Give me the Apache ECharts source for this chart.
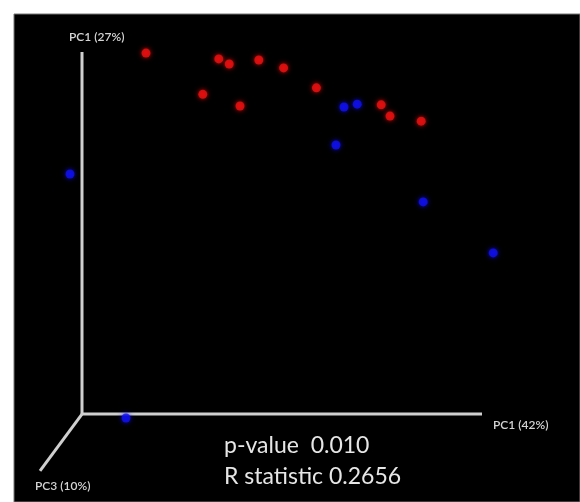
<!DOCTYPE html>
<html>
<head>
<meta charset="utf-8">
<script src="https://cdn.jsdelivr.net/npm/echarts@6/dist/echarts.min.js"></script>
<style>
    html, body{
        margin: 0;
        padding: 0;
        background: #fff;
    }
    #pcoa{
        width: 580px;
        height: 502px;
    }
</style>
</head>
<body>
<div id="pcoa"></div>
<script>
    // PCoA scores (PC1 42% across, PC1 27% up)
    var redPoints = [
        [16, 99.7], [34.2, 98.1], [36.8, 96.7], [44.2, 97.8], [50.4, 95.6],
        [30.2, 88.3], [39.5, 85.1], [58.6, 90.1], [74.8, 85.4], [77, 82.3], [84.8, 80.9]
    ];
    var bluePoints = [
        [-3, 66.3], [65.5, 84.8], [68.8, 85.6], [63.5, 74.3],
        [85.3, 58.6], [102.8, 44.5], [11, -1.1]
    ];
    // the three drawn axes, from origin
    var axisPC1 = [[0, 0], [100, 0]];
    var axisPC2 = [[0, 0], [0, 100]];
    var axisPC3 = [[0, 0], [-10.5, -15.7]];
    var axisNames = ['PC1 (42%)', 'PC1 (27%)', 'PC3 (10%)'];
    var statLines = ['p-value  0.010', 'R statistic 0.2656'];

    var myChart = echarts.init(document.getElementById('pcoa'));

    function axisLine(data){
        return {
            type: 'line',
            data: data,
            symbol: 'none',
            silent: true,
            z: 1,
            lineStyle: {color: '#cfcfcf', width: 3}
        };
    }
    function dots(data, color){
        return {
            type: 'scatter',
            data: data,
            symbolSize: 9,
            z: 3,
            itemStyle: {color: color, shadowBlur: 5, shadowColor: color}
        };
    }

    var option = {
        backgroundColor: '#fff',
        animation: false,
        grid: {
            left: 14, top: 14, right: 0, bottom: 0,
            show: true,
            backgroundColor: '#000',
            borderColor: '#777',
            borderWidth: 1
        },
        xAxis: {
            type: 'value', min: -17, max: 124.5,
            show: false, splitLine: {show: false}
        },
        yAxis: {
            type: 'value', min: -24.3, max: 110.5,
            show: false, splitLine: {show: false}
        },
        series: [
            axisLine(axisPC1),
            axisLine(axisPC2),
            axisLine(axisPC3),
            dots(redPoints, '#f01010'),
            dots(bluePoints, '#1010f5')
        ],
        graphic: [
            {type: 'text', left: 493, top: 419, style: {text: axisNames[0], fill: '#d4d4d4', font: '600 12px Lato'}},
            {type: 'text', left: 69, top: 31, style: {text: axisNames[1], fill: '#d4d4d4', font: '600 12px Lato'}},
            {type: 'text', left: 35, top: 480, style: {text: axisNames[2], fill: '#d4d4d4', font: '600 12px Lato'}},
            {type: 'text', left: 224, top: 434, style: {text: statLines[0], fill: '#e6e6e6', font: '23px Lato'}},
            {type: 'text', left: 224, top: 465, style: {text: statLines[1], fill: '#e6e6e6', font: '23px Lato'}}
        ]
    };
    myChart.setOption(option);
</script>
</body>
</html>
